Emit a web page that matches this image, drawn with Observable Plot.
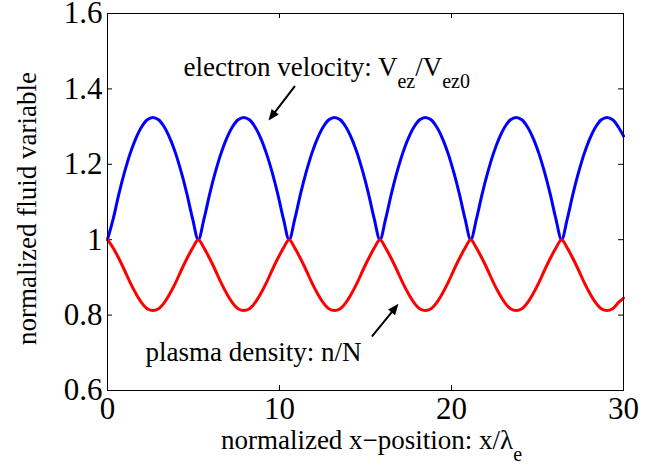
<!DOCTYPE html>
<html><head><meta charset="utf-8">
<script src="https://cdn.jsdelivr.net/npm/d3@7"></script>
<script src="https://cdn.jsdelivr.net/npm/@observablehq/plot@0.6"></script>
<style>html,body{margin:0;padding:0;background:#fff} svg{display:block}</style>
</head><body><div id="chart"></div>
<script>
// x positions (normalized x-position x/λe)
const xs = [0,0.33,0.66,0.99,1.32,1.65,1.98,2.31,2.64,2.97,3.30,3.63,3.96,4.29,4.62,4.95,
5.28,5.61,5.94,6.27,6.60,6.93,7.26,7.59,7.92,8.25,8.58,8.91,9.24,9.57,9.90,10.23,
10.56,10.89,11.22,11.55,11.88,12.21,12.54,12.87,13.20,13.53,13.86,14.19,14.52,14.85,15.18,15.51,
15.84,16.17,16.50,16.83,17.16,17.49,17.82,18.15,18.48,18.81,19.14,19.47,19.80,20.13,20.46,20.79,
21.12,21.45,21.78,22.11,22.44,22.77,23.10,23.43,23.76,24.09,24.42,24.75,25.08,25.41,25.74,26.07,
26.40,26.73,27.06,27.39,27.72,28.05,28.38,28.71,29.04,29.37,29.70,30.00];
// electron velocity Vez/Vez0
const velocity = [1.000,1.055,1.121,1.179,1.229,1.269,1.299,1.318,1.324,1.318,1.299,1.269,1.229,1.179,1.121,1.055,
1.000,1.055,1.121,1.179,1.229,1.269,1.299,1.318,1.324,1.318,1.299,1.269,1.229,1.179,1.121,1.055,
1.000,1.055,1.121,1.179,1.229,1.269,1.299,1.318,1.324,1.318,1.299,1.269,1.229,1.179,1.121,1.055,
1.000,1.055,1.121,1.179,1.229,1.269,1.299,1.318,1.324,1.318,1.299,1.269,1.229,1.179,1.121,1.055,
1.000,1.055,1.121,1.179,1.229,1.269,1.299,1.318,1.324,1.318,1.299,1.269,1.229,1.179,1.121,1.055,
1.000,1.055,1.121,1.179,1.229,1.269,1.299,1.318,1.324,1.318,1.299,1.275];
// plasma density n/N
const density = [1.000,0.978,0.950,0.919,0.886,0.857,0.833,0.817,0.812,0.817,0.833,0.857,0.886,0.919,0.950,0.978,
1.000,0.978,0.950,0.919,0.886,0.857,0.833,0.817,0.812,0.817,0.833,0.857,0.886,0.919,0.950,0.978,
1.000,0.978,0.950,0.919,0.886,0.857,0.833,0.817,0.812,0.817,0.833,0.857,0.886,0.919,0.950,0.978,
1.000,0.978,0.950,0.919,0.886,0.857,0.833,0.817,0.812,0.817,0.833,0.857,0.886,0.919,0.950,0.978,
1.000,0.978,0.950,0.919,0.886,0.857,0.833,0.817,0.812,0.817,0.833,0.857,0.886,0.919,0.950,0.978,
1.000,0.978,0.950,0.919,0.886,0.857,0.833,0.817,0.812,0.817,0.833,0.845];

const xTicks = [0,10,20,30];
const yTicks = [0.6,0.8,1,1.2,1.4,1.6];
const xLabel = "normalized x\u2212position: x/\u03bb_{e}";
const yLabel = "normalized fluid variable";
const annotations = [
  {label: "electron velocity: V_{ez}/V_{ez0}", x: 4.42, y: 1.458},
  {label: "plasma density: n/N", x: 2.21, y: 0.702}
];
const arrows = [
  {x1: 10.87, y1: 1.406, x2: 9.36, y2: 1.316},
  {x1: 15.40, y1: 0.745, x2: 16.92, y2: 0.830}
];

const rows = xs.map((x, i) => ({x, v: velocity[i], n: density[i]}));
const W = 660, H = 472, mt = 13, mr = 37, mb = 82, ml = 107;
const iw = W - ml - mr, ih = H - mt - mb;
const serif = "'Liberation Serif','Times New Roman',serif";
const fmt = d => String(+d.toFixed(2));

const chart = Plot.plot({
  width: W, height: H,
  marginTop: mt, marginRight: mr, marginBottom: mb, marginLeft: ml,
  style: {fontFamily: serif, fontSize: "31px", background: "white", color: "black"},
  x: {domain: [0, 30]},
  y: {domain: [0.6, 1.6]},
  marks: [
    Plot.ruleY(yTicks, {insetRight: iw - 5, stroke: "black"}),
    Plot.ruleY(yTicks, {insetLeft: iw - 5, stroke: "black"}),
    Plot.ruleX(xTicks, {insetTop: ih - 5, stroke: "black"}),
    Plot.ruleX(xTicks, {insetBottom: ih - 5, stroke: "black"}),
    Plot.line(rows, {x: "x", y: "v", stroke: "#0000ff", strokeWidth: 3, curve: "catmull-rom"}),
    Plot.line(rows, {x: "x", y: "n", stroke: "#ff0000", strokeWidth: 3, curve: "catmull-rom"}),
    Plot.frame({stroke: "black"}),
    Plot.axisX(xTicks, {tickSize: 0, tickPadding: 6, label: null, fontSize: 31, tickFormat: fmt}),
    Plot.axisY(yTicks, {tickSize: 0, tickPadding: 5, label: null, fontSize: 31, tickFormat: fmt}),
    Plot.text([yLabel], {frameAnchor: "left", textAnchor: "middle", lineAnchor: "middle", rotate: -90, dx: -80.6, dy: 6.5, fontSize: 27, fill: "black"}),
    Plot.text([xLabel], {frameAnchor: "bottom", textAnchor: "middle", lineAnchor: "middle", dx: 6, dy: 49.4, fontSize: 27, fill: "black"}),
    Plot.text(annotations, {x: "x", y: "y", text: "label", textAnchor: "start", lineAnchor: "middle", fontSize: 27, fill: "black"}),
    Plot.arrow(arrows, {x1: "x1", y1: "y1", x2: "x2", y2: "y2", stroke: "black", strokeWidth: 2, headLength: 10, headAngle: 50})
  ]
});

// render TeX-like subscripts
d3.select(chart).selectAll("text").each(function () {
  const s = this.textContent;
  if (!s.includes("_{")) return;
  const parts = s.split(/(_\{[^}]*\})/).filter(p => p);
  while (this.firstChild) this.removeChild(this.firstChild);
  let sub = false;
  for (const p of parts) {
    const t = document.createElementNS("http://www.w3.org/2000/svg", "tspan");
    if (p.startsWith("_{")) {
      t.textContent = p.slice(2, -1);
      t.setAttribute("font-size", "20px");
      t.setAttribute("dy", sub ? "0" : "12");
      sub = true;
    } else {
      t.textContent = p;
      if (sub) t.setAttribute("dy", "-12");
      sub = false;
    }
    this.appendChild(t);
  }
});

// MATLAB-style filled arrowheads: reuse the arrow mark's own shaft geometry
d3.select(chart).selectAll('g[aria-label="arrow"] path').each(function () {
  const nums = (this.getAttribute("d") || "").match(/-?\d*\.?\d+(?:e-?\d+)?/g);
  if (!nums || nums.length < 4) return;
  const [x1, y1, x2, y2] = nums.slice(0, 4).map(Number);
  const len = Math.hypot(x2 - x1, y2 - y1), ux = (x2 - x1) / len, uy = (y2 - y1) / len;
  const hl = 11, hw = 4.5;
  const bx = x2 - ux * hl, by = y2 - uy * hl;
  this.setAttribute("d", `M${x1},${y1}L${bx + ux},${by + uy}`);
  const tri = document.createElementNS("http://www.w3.org/2000/svg", "path");
  tri.setAttribute("d", `M${x2},${y2}L${bx - uy * hw},${by + ux * hw}L${bx + uy * hw},${by - ux * hw}Z`);
  tri.setAttribute("fill", "black");
  tri.setAttribute("stroke", "none");
  this.parentNode.appendChild(tri);
});

document.getElementById("chart").appendChild(chart);
</script>
</body></html>
